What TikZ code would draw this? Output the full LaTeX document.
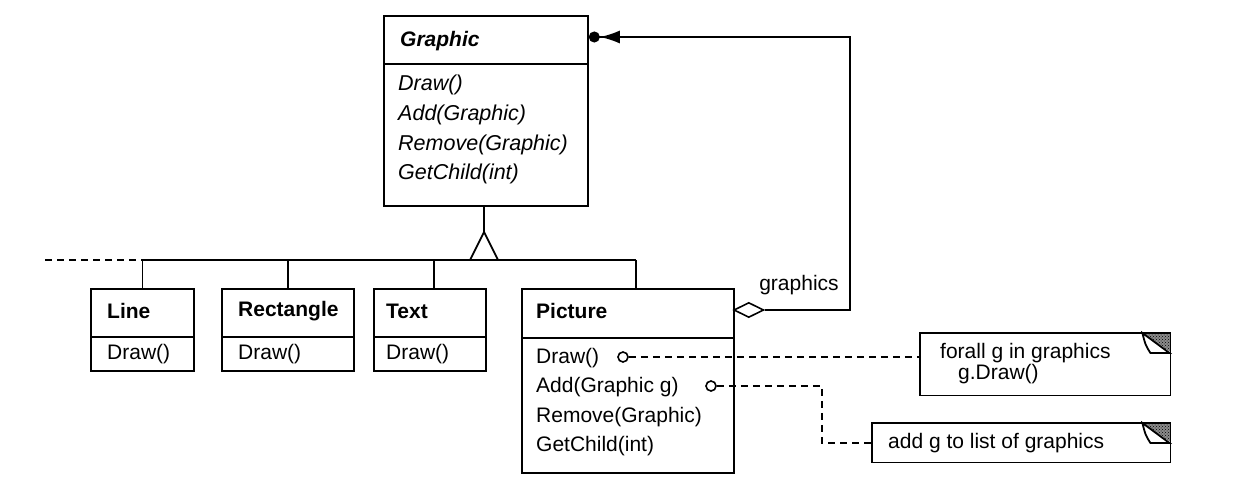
\documentclass[tikz,border=0pt]{standalone}
\usepackage{fontspec}
\setmainfont{Liberation Sans}
\usetikzlibrary{arrows.meta,shapes.geometric,calc,patterns}
\tikzset{
  cls/.style={draw, line width=1.8pt, anchor=north west, inner sep=0pt},
  txt/.style={anchor=west, inner sep=0pt, font=\fontsize{21}{24}\selectfont},
  itxt/.style={txt, font=\fontsize{21.5}{24}\selectfont\itshape},
  hdr/.style={txt, font=\fontsize{21}{24}\selectfont\bfseries},
  ihdr/.style={txt, font=\fontsize{21}{24}\selectfont\bfseries\itshape},
  ln/.style={line width=1.8pt},
  dsh/.style={line width=1.6pt, dash pattern=on 7pt off 5pt},
  knob/.style={circle, draw, line width=1.6pt, minimum size=10pt, inner sep=0pt, fill=white},
  notebox/.style={anchor=north west, inner sep=0pt},
}
\newcommand{\dogear}[1]{%
  \fill[black!45]
    ($(#1.north east)+(-28,0)$) -- (#1.north east) -- ($(#1.north east)+(0,19)$) -- cycle;
  \fill[pattern=crosshatch dots, pattern color=black]
    ($(#1.north east)+(-28,0)$) -- (#1.north east) -- ($(#1.north east)+(0,19)$) -- cycle;
  \draw[ln] (#1.north west) -- (#1.north east) -- (#1.south east) -- (#1.south west) -- cycle;
  \draw[ln, fill=white] ($(#1.north east)+(-28,0)$) .. controls ($(#1.north east)+(-25,12)$) .. ($(#1.north east)+(-20,20)$)
     -- ($(#1.north east)+(-1,20)$) -- cycle;
}
\begin{document}
\begin{tikzpicture}[x=1pt,y=-1pt]
\useasboundingbox (0,0) rectangle (1260,494);

% Graphic
\node[cls, minimum width=204pt, minimum height=190pt] (graphic) at (383,15) {};
\draw[ln] (383,64) -- (587,64);
\node[ihdr] (gname) at (400,41) {Graphic};
\node[itxt] (g1) at (398,85) {Draw()};
\node[itxt] (g2) at (398,115) {Add(Graphic)};
\node[itxt] (g3) at (398,145) {Remove(Graphic)};
\node[itxt] (g4) at (398,174) {GetChild(int)};

% inheritance
\coordinate (tri) at (484,232);
\coordinate (bar) at (484,260);
\draw[ln] (graphic.south -| tri) -- (tri);
\draw[ln, fill=white] (tri) -- (470,260) -- (498,260) -- cycle;

% Line
\node[cls, minimum width=103pt, minimum height=82pt] (line) at (90,288) {};
\draw[ln] (90,337) -- (193,337);
\node[hdr] (lname) at (107,311) {Line};
\node[txt] (l1) at (107,354) {Draw()};

% Rectangle
\node[cls, minimum width=132pt, minimum height=82pt] (rect) at (221,288) {};
\draw[ln] (221,337) -- (353,337);
\node[hdr] (rname) at (238,311) {Rectangle};
\node[txt] (r1) at (238,354) {Draw()};

% Text
\node[cls, minimum width=112pt, minimum height=82pt] (text) at (373,288) {};
\draw[ln] (373,337) -- (485,337);
\node[hdr] (tname) at (386,311) {Text};
\node[txt] (t1) at (386,354) {Draw()};

% Picture
\node[cls, minimum width=212pt, minimum height=184pt] (pic) at (521,288) {};
\draw[ln] (521,338) -- (733,338);
\node[hdr] (pname) at (536,311) {Picture};
\node[txt] (p1) at (536,358) {Draw()};
\node[txt] (p2) at (536,387) {Add(Graphic g)};
\node[txt] (p3) at (536,417) {Remove(Graphic)};
\node[txt] (p4) at (536,446) {GetChild(int)};

% hierarchy bar
\coordinate (barL) at (45,260);
\coordinate (tdrop) at (434,260);
\coordinate (pdrop) at (636,260);
\draw[dsh] (barL) -- (line.north |- bar);
\draw[ln] (line.north |- bar) -- (pdrop);
\draw[ln] (line.north |- bar) -- (line.north);
\draw[ln] (rect.north |- bar) -- (rect.north);
\draw[ln] (tdrop) -- (text.north -| tdrop);
\draw[ln] (pdrop) -- (pic.north -| pdrop);

% aggregation
\node[diamond, draw, line width=1.6pt, aspect=2.1, minimum width=30pt, minimum height=15pt, inner sep=0pt, fill=white, anchor=west] (diam) at (733,310) {};
\coordinate (corner) at (850,37);
\draw[ln, -{Latex[length=20pt,width=13pt] Circle[length=11pt]}] (diam.east) -| (corner) -- (graphic.east |- corner);
\node[anchor=center, inner sep=0pt, font=\fontsize{21}{24}\selectfont] (glabel) at (799,285) {graphics};

% notes
\node[notebox, minimum width=250pt, minimum height=62pt] (n1) at (920,333) {};
\dogear{n1}
\node[txt, align=left] (n1t) at (940,364) {forall g in graphics\\[-3pt]\hspace*{18pt}g.Draw()};
\node[notebox, minimum width=298pt, minimum height=39pt] (n2) at (872,423) {};
\dogear{n2}
\node[txt] (n2t) at (888,443) {add g to list of graphics};

\node[knob] (k1) at (623,357) {};
\node[knob] (k2) at (711,386) {};
\coordinate (elbow) at (822,386);
\draw[dsh] (k1.east) -- (k1 -| n1.west);
\draw[dsh] (k2.east) -- (elbow) |- (n2.west);
\end{tikzpicture}
\end{document}
